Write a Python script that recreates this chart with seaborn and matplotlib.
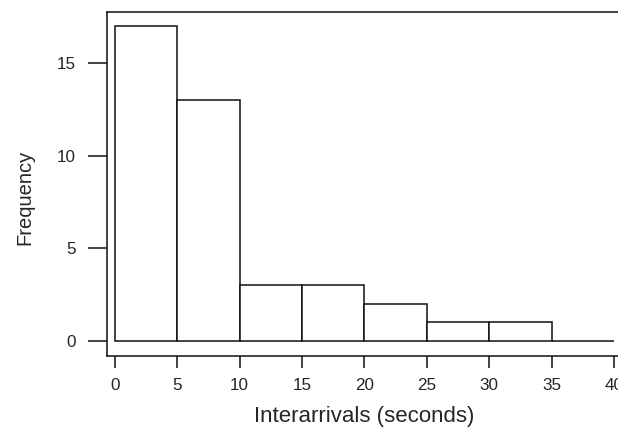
import matplotlib
matplotlib.use("Agg")
import matplotlib.pyplot as plt
import seaborn as sns
import numpy as np

# bin edges and counts
bin_edges = [0, 5, 10, 15, 20, 25, 30, 35, 40]
counts = [17, 13, 3, 3, 2, 1, 1, 0]
bin_mids = [(a + b) / 2 for a, b in zip(bin_edges[:-1], bin_edges[1:])]

x_ticks = [0, 5, 10, 15, 20, 25, 30, 35, 40]
y_ticks = [0, 5, 10, 15]

sns.set_style("white")
plt.rcParams['font.family'] = ['Liberation Sans', 'DejaVu Sans']

fig = plt.figure(figsize=(6.18, 4.30), dpi=100)
# frame starts at pixel 107 on the left and runs past the right edge
ax = fig.add_axes([107 / 618, 1 - 356 / 430, 533 / 618, 344 / 430])

sns.histplot(x=bin_mids, weights=counts, bins=bin_edges, ax=ax,
             color="white", edgecolor="#111111", linewidth=1.1, alpha=1)

ax.set_xlim(-0.64, -0.64 + 533 / 12.475)
ax.set_ylim(-0.81, 17.77)
ax.set_xticks(x_ticks)
ax.set_yticks(y_ticks)

for s in ax.spines.values():
    s.set_color("#111111")
    s.set_linewidth(1.1)
ax.spines['right'].set_visible(False)

ax.tick_params(axis='y', direction='out', length=13.7, width=1.1, color="#111111",
               pad=9, labelsize=12.3, left=True)
ax.tick_params(axis='x', direction='out', length=8.6, width=1.1, color="#111111",
               pad=7, labelsize=12.3, bottom=True)

ax.set_xlabel("Interarrivals (seconds)", fontsize=16)
ax.set_ylabel("Frequency", fontsize=14.5)
ax.xaxis.set_label_coords((364 - 107) / 533, -(406 - 356) / 344)
ax.yaxis.set_label_coords(-(107 - 34) / 533, (356 - 197) / 344)

fig.savefig("out.png", dpi=100)
